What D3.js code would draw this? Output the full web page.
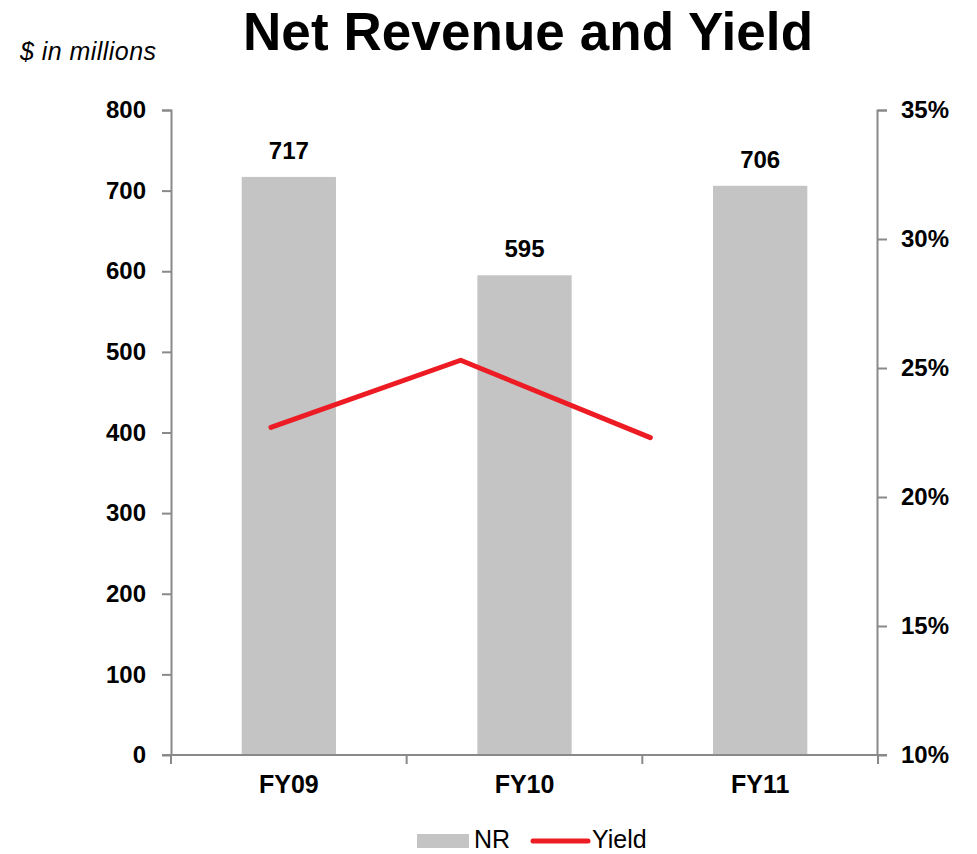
<!DOCTYPE html>
<html>
<head>
<meta charset="utf-8">
<script src="https://cdn.jsdelivr.net/npm/d3@7"></script>
<style>
  body { margin: 0; background: #fff; }
  text { font-family: "Liberation Sans", Arial, sans-serif; }
</style>
</head>
<body>
<div class="chart"></div>
<script>
// chart data
var categories = ["FY09", "FY10", "FY11"];
var netRevenue = [717, 595, 706];
var yieldPct = [22.7, 25.3, 22.3];
var revTicks = [0, 100, 200, 300, 400, 500, 600, 700, 800];
var pctTicks = [10, 15, 20, 25, 30, 35];

var w = 977, h = 854;
var margin = {top: 110, right: 99, bottom: 99, left: 171};
var pw = w - margin.left - margin.right;
var ph = h - margin.top - margin.bottom;

var svg = d3.select(".chart").append("svg")
    .attr("width", w)
    .attr("height", h);

// title + unit note
svg.append("text")
    .attr("x", 528).attr("y", 50)
    .attr("text-anchor", "middle")
    .style("font-size", "53px").style("font-weight", "bold")
    .attr("textLength", 570)
    .text("Net Revenue and Yield");
svg.append("text")
    .attr("x", 20).attr("y", 60)
    .style("font-size", "25px").style("font-style", "italic")
    .attr("textLength", 136)
    .text("$ in millions");

var g = svg.append("g").attr("transform", `translate(${margin.left},${margin.top})`);

var x = d3.scaleBand().domain(categories).range([0, pw]).paddingInner(0.6).paddingOuter(0.3);
var xCat = d3.scaleBand().domain(categories).range([0, pw]);
// the yield line sits on its own (secondary) category axis
var xLine = d3.scalePoint().domain(categories).range([pw * 0.1414, pw * 0.678]);
var y = d3.scaleLinear().domain([0, 800]).range([ph, 0]);
var y2 = d3.scaleLinear().domain([10, 35]).range([ph, 0]);

var axisColor = "#898989";

// bars
g.selectAll(".bar")
    .data(categories)
    .enter().append("rect")
    .attr("class", "bar")
    .attr("x", d => x(d))
    .attr("width", x.bandwidth())
    .attr("y", (d, i) => y(netRevenue[i]))
    .attr("height", (d, i) => ph - y(netRevenue[i]))
    .attr("fill", "#c4c4c4");

// bar labels
g.selectAll(".lbl")
    .data(categories)
    .enter().append("text")
    .attr("class", "lbl")
    .attr("x", d => x(d) + x.bandwidth() / 2)
    .attr("y", (d, i) => y(netRevenue[i]) - 18)
    .attr("text-anchor", "middle")
    .style("font-size", "24px").style("font-weight", "bold")
    .text((d, i) => netRevenue[i]);

// left axis
var yAxis = g.append("g")
    .call(d3.axisLeft(y).tickValues(revTicks).tickSize(9).tickPadding(16));
// right axis
var y2Axis = g.append("g")
    .attr("transform", `translate(${pw},0)`)
    .call(d3.axisRight(y2).tickValues(pctTicks).tickSize(9).tickPadding(14).tickFormat(d => d + "%"));
// bottom axis
var xAxis = g.append("g")
    .attr("transform", `translate(0,${ph})`)
    .call(d3.axisBottom(xCat).tickSize(0).tickPadding(20));
xAxis.selectAll(".tick").append("line")
    .attr("x1", -xCat.bandwidth() / 2).attr("x2", -xCat.bandwidth() / 2)
    .attr("y1", 0).attr("y2", 9)
    .attr("stroke", axisColor).attr("stroke-width", 2);
xAxis.append("line")
    .attr("x1", pw).attr("x2", pw).attr("y1", 0).attr("y2", 9)
    .attr("stroke", axisColor).attr("stroke-width", 2);

[yAxis, y2Axis, xAxis].forEach(function(a) {
    a.select(".domain").attr("stroke", axisColor).attr("stroke-width", 2);
    a.selectAll(".tick line").attr("stroke", axisColor).attr("stroke-width", 2);
    a.selectAll("text")
        .attr("fill", "#000")
        .style("font-size", "24px").style("font-weight", "bold")
        .style("font-family", "'Liberation Sans', Arial, sans-serif");
});
xAxis.selectAll("text").style("font-size", "25px");
yAxis.select(".domain").attr("d", `M-9,0.5H0.5V${ph}`);
y2Axis.select(".domain").attr("d", `M9,0.5H-0.5V${ph}`);
xAxis.select(".domain").attr("d", `M-9,0H${pw + 9}`);

// yield line
var line = d3.line()
    .x((d, i) => xLine(categories[i]))
    .y(d => y2(d));
g.append("path")
    .datum(yieldPct)
    .attr("d", line)
    .attr("fill", "none")
    .attr("stroke", "#ed1c24")
    .attr("stroke-width", 5)
    .attr("stroke-linecap", "round")
    .attr("stroke-linejoin", "round");

// legend
var leg = svg.append("g").attr("transform", "translate(417,834)");
leg.append("rect").attr("x", 0).attr("y", 0).attr("width", 52).attr("height", 14).attr("fill", "#c4c4c4");
leg.append("text").attr("x", 57).attr("y", 14).style("font-size", "25px").text("NR");
leg.append("line").attr("x1", 116).attr("x2", 171).attr("y1", 7).attr("y2", 7)
    .attr("stroke", "#ed1c24").attr("stroke-width", 5).attr("stroke-linecap", "round");
leg.append("text").attr("x", 175).attr("y", 14).style("font-size", "25px").text("Yield");
</script>
</body>
</html>
